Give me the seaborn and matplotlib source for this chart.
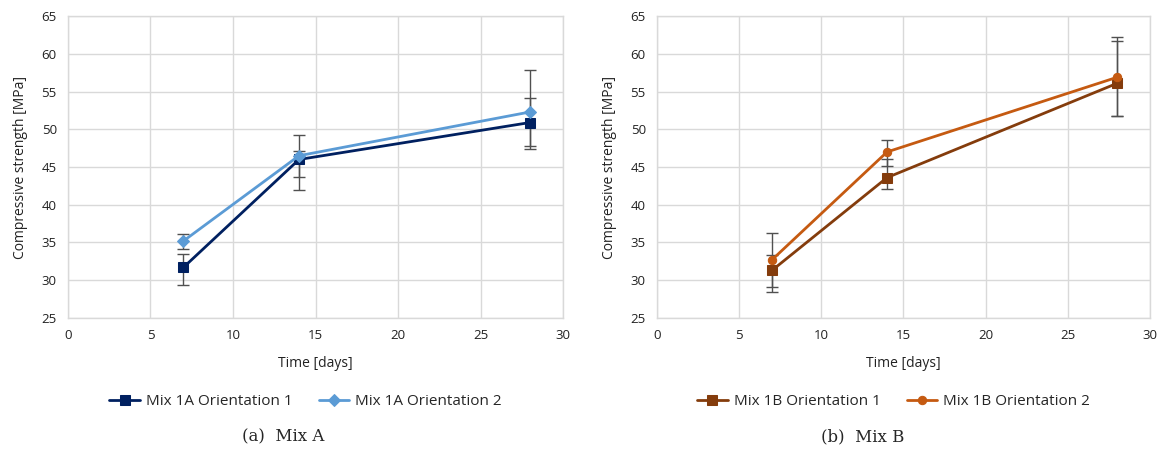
import matplotlib
matplotlib.use("Agg")
import matplotlib.pyplot as plt
import numpy as np
import seaborn as sns

# data
days = [7, 14, 28]

mix_a_o1 = [31.7, 46.0, 50.9]
mix_a_o1_lo = [29.3, 42.0, 47.4]
mix_a_o1_hi = [33.5, 47.1, 54.2]

mix_a_o2 = [35.2, 46.5, 52.3]
mix_a_o2_lo = [34.1, 43.7, 47.8]
mix_a_o2_hi = [36.1, 49.3, 57.9]

mix_b_o1 = [31.3, 43.6, 56.1]
mix_b_o1_lo = [28.4, 42.1, 51.8]
mix_b_o1_hi = [33.4, 46.0, 61.7]

mix_b_o2 = [32.7, 47.0, 56.9]
mix_b_o2_lo = [29.1, 45.2, 51.7]
mix_b_o2_hi = [36.3, 48.6, 62.3]

x_ticks = [0, 5, 10, 15, 20, 25, 30]
y_ticks = [25, 30, 35, 40, 45, 50, 55, 60, 65]

sns.set_style("white")
plt.rcParams['font.family'] = ['Open Sans', 'DejaVu Sans']

fig = plt.figure(figsize=(11.64, 4.49), dpi=100)
ax_a = fig.add_axes([0.0584, 0.292, 0.4253, 0.672])
ax_b = fig.add_axes([0.5644, 0.292, 0.4236, 0.672])

GRID = '#d9d9d9'
ERR = '#505050'


def draw_series(ax, vals, lo, hi, color, marker, ms, label):
    ax.errorbar(days, vals,
                yerr=[np.array(vals) - np.array(lo), np.array(hi) - np.array(vals)],
                fmt='none', ecolor=ERR, elinewidth=1.0, capsize=4, capthick=1.0,
                zorder=2)
    sns.lineplot(x=days, y=vals, ax=ax, color=color, marker=marker,
                 markersize=ms, markeredgecolor=color, linewidth=2,
                 label=label, zorder=3)


def style_axes(ax):
    ax.set_xlim(0, 30)
    ax.set_ylim(25, 65)
    ax.set_xticks(x_ticks)
    ax.set_yticks(y_ticks)
    ax.grid(True, color=GRID, linewidth=1)
    ax.set_axisbelow(True)
    for s in ax.spines.values():
        s.set_color(GRID)
        s.set_linewidth(1)
    ax.tick_params(axis='both', length=0, labelsize=9.5, colors='#222222', pad=8)
    ax.set_xlabel('Time [days]', fontsize=10, color='#222222', labelpad=10)
    ax.set_ylabel('Compressive strength [MPa]', fontsize=10, color='#222222', labelpad=10)


draw_series(ax_a, mix_a_o1, mix_a_o1_lo, mix_a_o1_hi, '#002060', 's', 7, 'Mix 1A Orientation 1')
draw_series(ax_a, mix_a_o2, mix_a_o2_lo, mix_a_o2_hi, '#5B9BD5', 'D', 6, 'Mix 1A Orientation 2')
draw_series(ax_b, mix_b_o1, mix_b_o1_lo, mix_b_o1_hi, '#843C0C', 's', 7, 'Mix 1B Orientation 1')
draw_series(ax_b, mix_b_o2, mix_b_o2_lo, mix_b_o2_hi, '#C55A11', 'o', 6, 'Mix 1B Orientation 2')

for ax in (ax_a, ax_b):
    style_axes(ax)
    h, l = ax.get_legend_handles_labels()
    ax.legend_.remove()
    ax.legend(h, l, loc='center', bbox_to_anchor=(0.48, -0.278), ncol=2,
              frameon=False, fontsize=11, handlelength=2.0, handletextpad=0.4,
              columnspacing=1.7)

fig.text(0.243, 0.027, '(a)  Mix A', ha='center', va='center',
         family='DejaVu Serif', fontsize=12)
fig.text(0.741, 0.027, '(b)  Mix B', ha='center', va='center',
         family='DejaVu Serif', fontsize=12)

fig.savefig('out.png', dpi=100)
